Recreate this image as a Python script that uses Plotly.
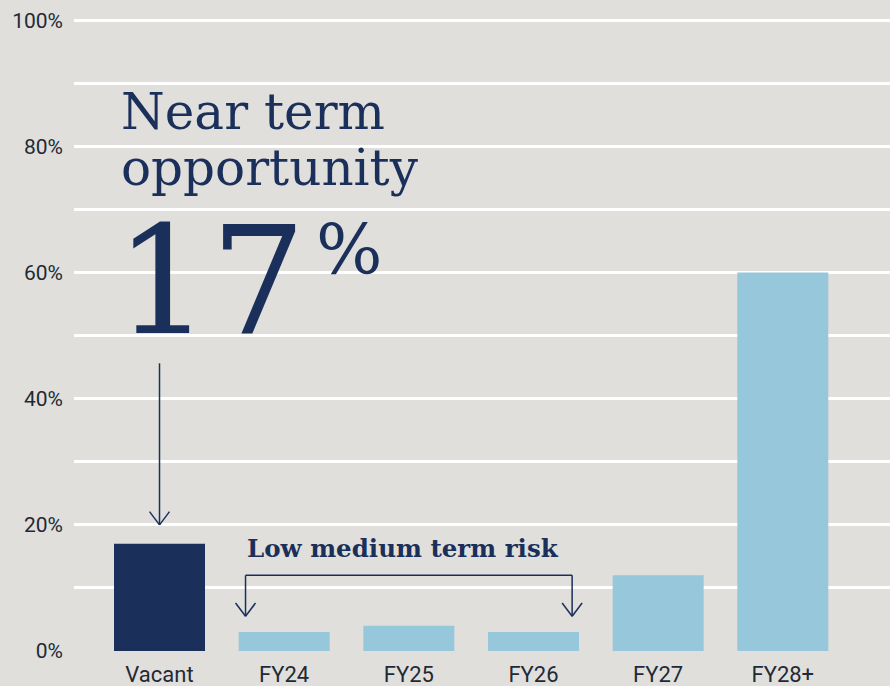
import plotly.graph_objects as go

categories = ["Vacant", "FY24", "FY25", "FY26", "FY27", "FY28+"]
values = [17, 3, 4, 3, 12, 60]
colors = ["#1a2f5a", "#96c7db", "#96c7db", "#96c7db", "#96c7db", "#96c7db"]
tick_vals = list(range(0, 101, 10))
tick_text = [f"{v}%" if v % 20 == 0 else "" for v in tick_vals]

NAVY = "#1a2f5a"
BG = "#e0dfdc"
SERIF = "DejaVu Serif"

fig = go.Figure(go.Bar(
    x=list(range(len(categories))), y=values,
    marker=dict(color=colors, line=dict(width=0)),
    width=0.73,
))

shapes = []
def line(x0, y0, x1, y1):
    shapes.append(dict(type="line", xref="x", yref="y", x0=x0, y0=y0, x1=x1, y1=y1,
                       line=dict(color=NAVY, width=1.5)))

def head(x, y, dx=0.08, dy=2.1):
    line(x - dx, y + dy, x, y)
    line(x + dx, y + dy, x, y)

# arrow to Vacant bar
tip_v = values[0] + 3
line(0, 45.6, 0, tip_v)
head(0, tip_v)

# bracket over FY24..FY26
yb = 12.0
xl, xr = 0.69, 3.31
tip_b = max(values[1:4]) + 1.5
line(xl, yb, xr, yb)
line(xl, yb, xl, tip_b)
line(xr, yb, xr, tip_b)
head(xl, tip_b)
head(xr, tip_b)

annotations = [
    dict(text="Near term", x=0.055, y=0.899, xref="paper", yref="paper",
         xanchor="left", yanchor="top", showarrow=False, align="left",
         font=dict(family=SERIF, size=50, color=NAVY)),
    dict(text="opportunity", x=0.055, y=0.810, xref="paper", yref="paper",
         xanchor="left", yanchor="top", showarrow=False, align="left",
         font=dict(family=SERIF, size=50, color=NAVY)),
    dict(text="17", x=0.048, y=0.724, xref="paper", yref="paper",
         xanchor="left", yanchor="top", showarrow=False,
         font=dict(family=SERIF, size=150, color=NAVY)),
    dict(text="%", x=0.294, y=0.70, xref="paper", yref="paper",
         xanchor="left", yanchor="top", showarrow=False,
         font=dict(family=SERIF, size=70, color=NAVY)),
    dict(text="<b>Low medium term risk</b>", x=1.95, y=13.7, xref="x", yref="y",
         xanchor="center", yanchor="bottom", showarrow=False,
         font=dict(family=SERIF, size=24.5, color=NAVY)),
]

fig.update_layout(
    width=890, height=686,
    margin=dict(l=74, r=0, t=17, b=35),
    paper_bgcolor=BG, plot_bgcolor=BG,
    showlegend=False,
    shapes=shapes,
    annotations=annotations,
    xaxis=dict(range=[-0.686, 5.86], tickvals=list(range(len(categories))), ticktext=categories,
               showgrid=False, zeroline=False, showline=False, ticks="",
               ticklabelstandoff=8, automargin=False,
               tickfont=dict(family="Roboto", size=22, color="#1f2a36")),
    yaxis=dict(range=[0, 100.5], tickvals=tick_vals, ticktext=tick_text,
               showgrid=True, gridcolor="white", gridwidth=2.5, zeroline=False,
               ticks="", ticklabelstandoff=10, automargin=False,
               tickfont=dict(family="Roboto", size=21, color="#1f2a36")),
)

fig.write_html("out.html", config={"displayModeBar": False},
               post_script="document.body.style.margin='0';")
